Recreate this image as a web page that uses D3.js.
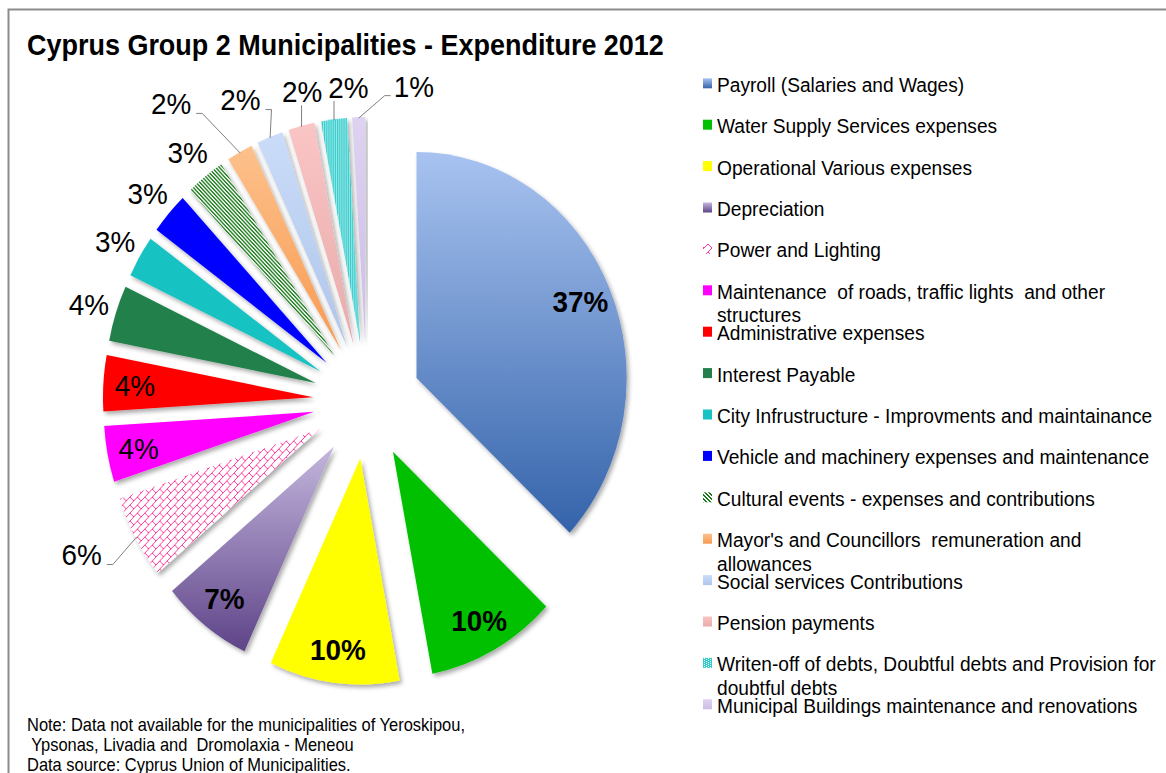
<!DOCTYPE html>
<html>
<head>
<meta charset="utf-8">
<script src="https://cdn.jsdelivr.net/npm/d3@7"></script>
<style>
  html, body { margin: 0; padding: 0; background: #fff; }
  svg { display: block; font-family: "Liberation Sans", Arial, sans-serif; }
  text { white-space: pre; }
</style>
</head>
<body>
<svg id="chart" width="1166" height="773"></svg>
<script>
// ---- data ----
const title = "Cyprus Group 2 Municipalities - Expenditure 2012";

const categories = [
  "Payroll (Salaries and Wages)",
  "Water Supply Services expenses",
  "Operational Various expenses",
  "Depreciation",
  "Power and Lighting",
  "Maintenance  of roads, traffic lights  and other structures",
  "Administrative expenses",
  "Interest Payable",
  "City Infrustructure - Improvments and maintainance",
  "Vehicle and machinery expenses and maintenance",
  "Cultural events - expenses and contributions",
  "Mayor's and Councillors  remuneration and allowances",
  "Social services Contributions",
  "Pension payments",
  "Writen-off of debts, Doubtful debts and Provision for doubtful debts",
  "Municipal Buildings maintenance and renovations"
];

// share of total expenditure, %
const shares = [37, 10, 10, 7, 6, 4, 4, 4, 3, 3, 3, 2, 2, 2, 2, 1];

const noteLines = [
  "Note: Data not available for the municipalities of Yeroskipou,",
  " Ypsonas, Livadia and  Dromolaxia - Meneou",
  "Data source: Cyprus Union of Municipalities."
];

// ---- styling ----
const SX = 0.93;               // horizontal compression of the whole drawing
const svg = d3.select("#chart");
const defs = svg.append("defs");

const fillStyle = [
  { grad: ["#a8c3f0", "#3463aa"] },
  { solid: "#00c000" },
  { solid: "#ffff00" },
  { grad: ["#c4b6dd", "#5e4488"] },
  { hatch: [0x01, 0x02, 0x04, 0x08, 0x18, 0x24, 0x42, 0x81], fg: "#ff3399" },
  { solid: "#ff00ff" },
  { solid: "#ff0000" },
  { solid: "#21804b" },
  { solid: "#17c2c2" },
  { solid: "#0000ff" },
  { hatch: [0xCC, 0x66, 0x33, 0x99, 0xCC, 0x66, 0x33, 0x99], fg: "#1a7a1a" },
  { grad: ["#fdc18c", "#f89a50"] },
  { grad: ["#cadcf8", "#afc5ea"] },
  { grad: ["#fac5c5", "#e8abab"] },
  { hatch: [0x77, 0xDD, 0x77, 0xDD, 0x77, 0xDD, 0x77, 0xDD], fg: "#33cccc" },
  { grad: ["#ded2f2", "#cbbde6"] }
];

fillStyle.forEach((s, i) => {
  if (s.grad) {
    const lg = defs.append("linearGradient").attr("id", "fill" + i)
      .attr("x1", 0).attr("y1", 0).attr("x2", 0).attr("y2", 1);
    lg.append("stop").attr("offset", "0%").attr("stop-color", s.grad[0]);
    lg.append("stop").attr("offset", "100%").attr("stop-color", s.grad[1]);
  } else if (s.hatch) {
    const p = defs.append("pattern").attr("id", "fill" + i)
      .attr("patternUnits", "userSpaceOnUse").attr("width", 8).attr("height", 8);
    p.append("rect").attr("width", 8).attr("height", 8).attr("fill", "#fff");
    s.hatch.forEach((row, y) => {
      for (let x = 0; x < 8; x++) {
        if (row & (0x80 >> x)) {
          p.append("rect").attr("x", x).attr("y", y).attr("width", 1).attr("height", 1).attr("fill", s.fg);
        }
      }
    });
  }
});
const fillRef = i => fillStyle[i].solid || `url(#fill${i})`;

const shadow = defs.append("filter").attr("id", "shadow")
  .attr("x", "-20%").attr("y", "-20%").attr("width", "140%").attr("height", "140%");
shadow.append("feDropShadow").attr("dx", 2.5).attr("dy", 3).attr("stdDeviation", 2.2)
  .attr("flood-color", "#000").attr("flood-opacity", 0.33);

// text helper: compressed horizontally like the rest of the drawing
function sText(parent, x, y, str, size, weight, anchor) {
  return parent.append("text")
    .attr("transform", `translate(${x},${y}) scale(${SX},1)`)
    .attr("font-size", size)
    .attr("font-weight", weight || "normal")
    .attr("text-anchor", anchor || "start")
    .attr("fill", "#000")
    .text(str);
}

// ---- frame ----
svg.append("path").attr("d", "M8.5,773 V9.5 H1166")
  .attr("fill", "none").attr("stroke", "#8c8c8c").attr("stroke-width", 2);

// ---- title ----
sText(svg, 27, 55, title, 29, "bold");

// ---- exploded pie ----
const cx = 367, cy = 401, R = 226, explode = 58;
const total = d3.sum(shares);
const arcs = d3.pie().sort(null).value(d => d)(shares);
const arcGen = d3.arc().innerRadius(0).outerRadius(R);
const mid = d => (d.startAngle + d.endAngle) / 2;
const dir = a => [Math.sin(a), -Math.cos(a)];
const toScreen = (ux, uy) => [cx + SX * ux, cy + uy];

const pieG = svg.append("g").attr("transform", `translate(${cx},${cy}) scale(${SX},1)`);
pieG.selectAll("path").data(arcs).join("path")
  .attr("transform", d => {
    const [ux, uy] = dir(mid(d));
    return `translate(${ux * explode},${uy * explode})`;
  })
  .attr("d", arcGen)
  .attr("fill", (d, i) => fillRef(i))
  .attr("filter", "url(#shadow)");

// ---- data labels ----
const labelMode = ["inb", "inb", "inb", "inb", "out", "in", "in", "out",
                   "out", "out", "out", "out", "out", "out", "out", "out"];
const labelNudge = { 4: [-29, 2], 11: [-55, -22], 12: [-19, -9], 13: [8, -5], 14: [18, -2], 15: [56, 0] };
const fmtPct = v => Math.round(v / total * 100) + "%";

const labelG = svg.append("g");
const leaderG = svg.append("g");
arcs.forEach((d, i) => {
  const a = mid(d);
  const [ux, uy] = dir(a);
  const mode = labelMode[i];
  const r = mode === "out" ? R * 1.135 : R * 0.85;
  let [x, y] = toScreen(ux * (explode + r), uy * (explode + r));
  const nudge = labelNudge[i];
  if (nudge) { x += nudge[0]; y += nudge[1]; }
  const t = sText(labelG, x, y, fmtPct(d.value), 30, mode === "inb" ? "bold" : "normal", "middle")
    .attr("dy", "0.36em");
  if (nudge) {
    const w = t.node().getComputedTextLength() * SX;
    const left = x - w / 2, right = x + w / 2, bottom = y + 11;
    const [tx, ty] = toScreen(ux * (explode + R - 1), uy * (explode + R - 1));
    let pts;
    if (ty > bottom + 6 && tx >= left - 2 && tx <= right + 2) {
      pts = [[tx, bottom + 3], [tx, ty]];
    } else if (tx > right) {
      pts = [[right + 5, y + 10], [right + 11, y + 10], [tx, ty]];
    } else {
      pts = [[left - 3, y + 9], [left - 9, y + 9], [tx, ty]];
    }
    leaderG.append("path").attr("d", d3.line()(pts))
      .attr("fill", "none").attr("stroke", "#7f7f7f").attr("stroke-width", 1);
  }
});

// ---- legend ----
const legendG = svg.append("g");
const legendMaxW = 480;
categories.forEach((name, i) => {
  const by = 91.7 + 41.4 * i;
  legendG.append("rect").attr("x", 703).attr("y", by - 13.4)
    .attr("width", 9).attr("height", 10).attr("fill", fillRef(i));
  const t = sText(legendG, 717, by, "", 20.6);
  const words = name.split(" ");
  let line = [], lineNo = 0;
  let tspan = t.append("tspan").attr("x", 0).attr("y", 0);
  words.forEach(w => {
    line.push(w);
    tspan.text(line.join(" "));
    if (tspan.node().getComputedTextLength() > legendMaxW && line.length > 1) {
      line.pop();
      tspan.text(line.join(" "));
      line = [w];
      lineNo++;
      tspan = t.append("tspan").attr("x", 0).attr("y", lineNo * 23.5).text(w);
    }
  });
});

// ---- footnote ----
noteLines.forEach((s, i) => sText(svg, 27, 731 + 20 * i, s, 17.7));
</script>
</body>
</html>
